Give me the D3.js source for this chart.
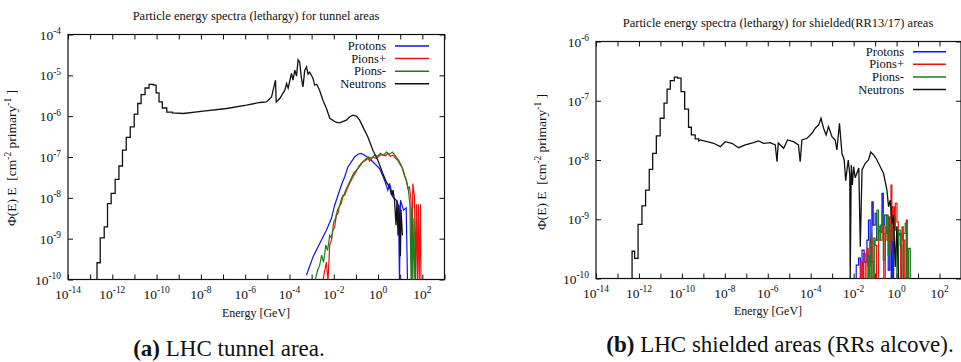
<!DOCTYPE html>
<html>
<head>
<meta charset="utf-8">
<script src="https://cdn.jsdelivr.net/npm/d3@7"></script>
<style>
  body { margin: 0; background: #fff; }
</style>
</head>
<body>
<svg id="chart" width="961" height="362"></svg>
<script>
// ---- data (log10 of energy in GeV, log10 of flux; null = empty bin) ----
var legendNames = ['Protons', 'Pions+', 'Pions-', 'Neutrons'];
var legendColors = ['#1010f0', '#f01010', '#1d7d1d', '#111'];

// (a) tunnel: thermal neutron bins (edges + contents), then the continuum
var tunnelThermalEdges = [-12.69, -12.545, -12.365, -12.216, -12.05, -11.87, -11.70, -11.54, -11.37, -11.19, -11.01, -10.85, -10.70, -10.52, -10.34, -10.14, -10.02, -9.89, -9.74, -9.54, -9.29];
var tunnelThermalPhi = [-9.59, -8.98, -8.71, -8.14, -7.89, -7.55, -7.22, -6.83, -6.52, -6.26, -5.95, -5.69, -5.47, -5.31, -5.22, -5.24, -5.43, -5.65, -5.80, -5.90];
var tunnelNeutronE = [-9.29, -8.79, -7.89, -6.84, -5.94, -5.34, -5.04, -4.81, -4.63, -4.60, -4.44, -4.21, -4.13, -4.06, -3.91, -3.84, -3.76, -3.68, -3.61, -3.54, -3.46, -3.39, -3.31, -3.23, -3.16, -3.09, -3.01, -2.94, -2.86, -2.77, -2.64, -2.49, -2.33, -2.18, -2.04, -1.91, -1.73, -1.60, -1.43, -1.28, -1.135, -0.98, -0.83, -0.685, -0.46, -0.234, -0.009, 0.216, 0.38, 0.518, 0.61, 0.675, 0.743, 0.81, 0.856, 0.90, 0.946, 1.01, 1.036, 1.10];
var tunnelNeutronPhi = [-5.92, -5.935, -5.878, -5.812, -5.732, -5.665, -5.651, -5.528, -5.119, -5.651, -5.567, -5.364, -5.2, -5.315, -4.955, -5.119, -4.874, -5.02, -4.62, -4.671, -5.07, -5.283, -4.874, -4.794, -4.97, -4.92, -4.997, -5.07, -5.24, -5.22, -5.364, -5.609, -5.812, -6.05, -6.099, -6.148, -6.165, -6.136, -6.099, -6.013, -5.976, -6.00, -6.099, -6.263, -6.508, -6.834, -7.079, -7.404, -7.617, -7.733, -7.94, -7.81, -8.06, -8.67, -8.06, -8.92, -8.18, -9.43, -8.29, -8.92];
var tunnelProtonE = [-3.234, -2.937, -2.635, -2.333, -2.108, -1.959, -1.811, -1.658, -1.509, -1.36, -1.207, -1.059, -0.91, -0.757, -0.608, -0.383, -0.158, 0.068, 0.293, 0.441, 0.518, 0.667, 0.82, 0.92, 0.968, 1.01, 1.15, 1.27, 1.33];
var tunnelProtonPhi = [-9.895, -9.447, -9.119, -8.793, -8.507, -8.181, -7.936, -7.691, -7.488, -7.243, -7.12, -6.998, -6.932, -6.914, -6.956, -7.037, -7.159, -7.282, -7.568, -7.813, -7.649, -7.977, -8.058, -8.18, null, -8.06, -8.30, -8.25, null];
var tunnelPionPlusE = [-2.50, -2.333, -2.26, -2.185, -2.108, -2.035, -1.959, -1.88, -1.811, -1.735, -1.658, -1.58, -1.509, -1.36, -1.28, -1.135, -1.06, -0.91, -0.79, -0.685, -0.56, -0.46, -0.38, -0.234, -0.11, -0.009, 0.11, 0.216, 0.34, 0.441, 0.56, 0.667, 0.79, 0.892, 1.01, 1.117, 1.19, 1.27, 1.35, 1.42, 1.49, 1.53, 1.568, 1.645, 1.69, 1.735, 1.78, 1.82, 1.86, 1.915, 1.94];
var tunnelPionPlusPhi = [null, -9.577, null, -9.16, -9.038, -8.793, -8.712, -8.426, -8.384, -8.181, -8.139, -7.936, -7.936, -7.733, -7.64, -7.488, -7.42, -7.282, -7.20, -7.12, -7.08, -7.037, -7.10, -6.998, -7.03, -6.998, -6.944, -6.956, -6.97, -6.914, -6.98, -6.956, -7.03, -7.079, -7.20, -7.282, -7.446, -7.568, -7.77, -7.733, -8.06, null, -7.649, -7.977, null, -8.157, null, -8.157, null, -8.157, null];
var tunnelPionMinusE = [-2.86, -2.73, -2.635, -2.55, -2.46, -2.36, -2.28, -2.185, -2.10, -2.00, -1.92, -1.83, -1.735, -1.64, -1.55, -1.46, -1.37, -1.24, -1.10, -0.97, -0.83, -0.70, -0.56, -0.43, -0.29, -0.16, -0.025, 0.11, 0.25, 0.38, 0.52, 0.65, 0.79, 0.93, 1.06, 1.19, 1.28, 1.37, 1.44, 1.49, 1.53, 1.57, 1.62, 1.66];
var tunnelPionMinusPhi = [null, -9.78, -9.65, -9.40, -9.58, -9.16, -9.29, -8.92, -8.99, -8.59, -8.50, -8.30, -8.20, -8.00, -7.95, -7.81, -7.71, -7.56, -7.39, -7.32, -7.20, -7.12, -7.05, -7.00, -7.03, -6.956, -6.98, -6.91, -6.956, -6.88, -6.93, -6.88, -6.98, -7.08, -7.22, -7.44, -7.57, -7.81, -8.18, null, -8.25, null, -8.50, null];

// (b) shielded RR13/17
var shieldThermalEdges = [-12.32, -12.20, -12.04, -11.86, -11.69, -11.52, -11.36, -11.19, -11.01, -10.83, -10.69, -10.54, -10.35, -10.20, -10.04, -9.87, -9.69, -9.56, -9.38, -9.22];
var shieldThermalPhi = [-9.54, -9.66, -9.087, -8.773, -8.507, -8.157, -7.887, -7.594, -7.295, -7.041, -6.805, -6.659, -6.602, -6.619, -6.845, -7.143, -7.447, -7.577, -7.645];
var shieldNeutronE = [-9.22, -9.14, -8.83, -8.52, -8.21, -7.98, -7.67, -7.36, -7.05, -6.66, -6.43, -6.20, -5.88, -5.65, -5.57, -5.51, -5.26, -5.08, -4.80, -4.57, -4.49, -4.41, -4.17, -3.94, -3.79, -3.63, -3.52, -3.40, -3.28, -3.17, -3.01, -2.86, -2.78, -2.66, -2.545, -2.44, -2.37, -2.31, -2.25, -2.18, -2.16, -2.11, -2.06, -2.00, -1.93, -1.85, -1.76, -1.69, -1.61, -1.46, -1.31, -1.20, -1.07, -0.915, -0.76, -0.61, -0.45, -0.375, -0.295, -0.216, -0.14, -0.063, 0.017, 0.09];
var shieldNeutronPhi = [-7.679, -7.662, -7.691, -7.718, -7.775, -7.691, -7.718, -7.792, -7.746, -7.708, -7.679, -7.718, -7.708, -7.746, -8.029, -7.713, -7.802, -7.662, -7.691, -7.746, -8.029, -7.662, -7.633, -7.549, -7.464, -7.408, -7.295, -7.464, -7.577, -7.437, -7.606, -7.662, -7.831, -7.38, -7.887, -8.0, -8.35, -8.169, -8.0, -8.254, null, -8.084, -8.42, -8.113, -8.30, -8.225, -8.135, -9.466, -8.169, -8.056, -8.0, -7.865, -7.915, -8.0, -8.113, -8.225, -8.507, -8.79, -8.676, -9.07, -8.93, -9.804, -9.128, null];
var shieldProtonE = [-2.005, -1.88, -1.77, -1.69, -1.61, -1.51, -1.38, -1.31, -1.23, -1.15, -1.09, -1.00, -0.93, -0.84, -0.76, -0.68, -0.62, -0.55, -0.45, -0.39, -0.32, -0.25, -0.20, -0.14];
var shieldProtonPhi = [null, -9.775, -9.657, null, -9.522, -9.725, -9.353, -9.015, -9.725, -8.705, -9.10, -8.90, -9.35, -9.128, -9.217, -8.563, -9.10, -8.93, -9.239, -9.86, -9.185, null, -9.353, null];
var shieldPionPlusE = [-1.74, -1.67, -1.60, -1.54, -1.46, -1.38, -1.32, -1.23, -1.16, -1.09, -1.00, -0.93, -0.84, -0.76, -0.67, -0.60, -0.53, -0.45, -0.375, -0.32, -0.26, -0.22, -0.17, -0.11, -0.06, 0.017, 0.08, 0.14, 0.19, 0.25, 0.31, 0.38, 0.45, 0.50];
var shieldPionPlusPhi = [null, -9.725, null, -9.577, null, -9.493, -9.79, -9.353, null, -9.32, -9.44, null, -9.185, -9.353, -9.10, null, -9.128, -9.353, -8.958, -9.52, -8.423, -9.353, -8.79, -9.185, -8.732, -9.043, -9.27, -9.239, null, -9.128, -9.353, null, -9.015, null];
var shieldPionMinusE = [-1.41, -1.32, -1.27, -1.23, -1.16, -1.09, -1.02, -0.915, -0.84, -0.76, -0.68, -0.62, -0.53, -0.46, -0.39, -0.32, -0.22, -0.14, -0.06, 0.01, 0.09, 0.17, 0.24, 0.32, 0.40, 0.47, 0.56, 0.64];
var shieldPionMinusPhi = [null, -9.61, null, -9.239, -9.725, null, -9.353, -8.845, -9.353, -9.10, -8.90, -9.69, -9.239, -8.93, -9.61, -9.10, -9.353, -8.958, -9.128, null, -9.185, -9.44, null, -9.239, -9.07, null, -9.493, null];

// ---- layout ----
var panels = [
  {
    left: 68, top: 34.5, right: 444.5, bottom: 279.5, yExp: [-10, -4],
    title: 'Particle energy spectra (lethargy) for tunnel areas', titleX: 256, titleY: 20,
    yLabelX: 16, yLabelY: 158, xLabelX: 256, xLabelY: 317,
    legendX: 386, legendY: 46, legendLineX: [395, 429],
    caption: ['(a)', ' LHC tunnel area.'], captionX: 229, captionY: 356,
    thermal: [tunnelThermalEdges, tunnelThermalPhi], neutron: [tunnelNeutronE, tunnelNeutronPhi],
    hadrons: [[tunnelProtonE, tunnelProtonPhi], [tunnelPionPlusE, tunnelPionPlusPhi], [tunnelPionMinusE, tunnelPionMinusPhi]],
    hadronCurve: d3.curveLinear
  },
  {
    left: 596, top: 41.5, right: 961, bottom: 278.5, yExp: [-10, -6],
    title: 'Particle energy spectra (lethargy) for shielded(RR13/17) areas', titleX: 778, titleY: 27,
    yLabelX: 546, yLabelY: 162, xLabelX: 768, xLabelY: 315,
    legendX: 904, legendY: 51.7, legendLineX: [913, 946],
    caption: ['(b)', ' LHC shielded areas (RRs alcove).'], captionX: 780, captionY: 352,
    thermal: [shieldThermalEdges, shieldThermalPhi], neutron: [shieldNeutronE, shieldNeutronPhi],
    hadrons: [[shieldProtonE, shieldProtonPhi], [shieldPionPlusE, shieldPionPlusPhi], [shieldPionMinusE, shieldPionMinusPhi]],
    hadronCurve: d3.curveStepAfter
  }
];

var FONT = '"Liberation Serif"';
var svg = d3.select('#chart');

function addText(parent) {
  return parent.append('text').style('font-family', FONT).style('fill', '#111');
}

function supText(sel, parts) {
  // parts: [text, isSuperscript, dropsBack]
  parts.forEach(function (p) {
    var t = sel.append('tspan').text(p[0]);
    if (p[1]) t.attr('dy', -5.5).attr('font-size', '0.7em');
    else if (p[2]) t.attr('dy', 5.5);
  });
}

panels.forEach(function (p, i) {
  var w = p.right - p.left, h = p.bottom - p.top;
  var x = d3.scaleLog().domain([1e-14, 1e3]).range([0, w]);
  var y = d3.scaleLog().domain([Math.pow(10, p.yExp[0]), Math.pow(10, p.yExp[1])]).range([h, 0]);
  var g = svg.append('g').attr('transform', 'translate(' + p.left + ',' + p.top + ')');

  var clipId = 'clip' + i;
  svg.append('clipPath').attr('id', clipId).append('rect').attr('width', w).attr('height', h);

  var xDec = d3.range(-14, 4).map(function (e) { return Math.pow(10, e); });
  var yDec = d3.range(p.yExp[0], p.yExp[1] + 1).map(function (e) { return Math.pow(10, e); });

  // inward ticks on all four sides
  g.append('g').attr('transform', 'translate(0,' + h + ')')
    .call(d3.axisBottom(x).tickValues(xDec).tickSize(-5).tickFormat(''));
  g.append('g').call(d3.axisTop(x).tickValues(xDec).tickSize(-5).tickFormat(''));
  g.append('g').call(d3.axisLeft(y).tickValues(yDec).tickSize(-5).tickFormat(''));
  g.append('g').attr('transform', 'translate(' + w + ',0)')
    .call(d3.axisRight(y).tickValues(yDec).tickSize(-5).tickFormat(''));
  g.selectAll('.domain').remove();
  g.selectAll('.tick line').attr('stroke', '#111').attr('stroke-width', 1);

  g.append('rect').attr('width', w).attr('height', h)
    .attr('fill', 'none').attr('stroke', '#111').attr('stroke-width', 1.2);

  // tick labels
  d3.range(-14, 3, 2).forEach(function (e) {
    var t = addText(g).attr('x', x(Math.pow(10, e))).attr('y', h + 19)
      .attr('text-anchor', 'middle').attr('font-size', 13.5);
    supText(t, [['10'], [String(e), true]]);
  });
  d3.range(p.yExp[0], p.yExp[1] + 1).forEach(function (e) {
    var t = addText(g).attr('x', -7).attr('y', y(Math.pow(10, e)) + 5)
      .attr('text-anchor', 'end').attr('font-size', 13.5);
    supText(t, [['10'], [String(e), true]]);
  });

  // titles and labels
  addText(svg).attr('x', p.titleX).attr('y', p.titleY).attr('text-anchor', 'middle')
    .attr('font-size', 12.5).text(p.title);
  addText(svg).attr('x', p.xLabelX).attr('y', p.xLabelY).attr('text-anchor', 'middle')
    .attr('font-size', 12).text('Energy [GeV]');
  var yl = addText(svg).attr('transform', 'translate(' + p.yLabelX + ',' + p.yLabelY + ') rotate(-90)')
    .attr('text-anchor', 'middle').attr('font-size', 13.5).style('white-space', 'pre');
  supText(yl, [['\u03A6(E) E  [cm'], ['-2', true], [' primary', false, true], ['-1', true], [' ]', false, true]]);

  var cap = addText(svg).attr('x', p.captionX).attr('y', p.captionY).attr('text-anchor', 'middle')
    .attr('font-size', 23);
  cap.append('tspan').attr('font-weight', 'bold').text(p.caption[0]);
  cap.append('tspan').text(p.caption[1]);

  // data → points
  function pts(es, fs) {
    return es.map(function (e, k) { return { e: Math.pow(10, e), f: fs[k] === null ? 0 : Math.pow(10, fs[k]) }; });
  }
  var line = d3.line()
    .x(function (d) { return x(d.e); })
    .y(function (d) { return d.f > 0 ? y(d.f) : h + 2; });

  var plot = g.append('g').attr('clip-path', 'url(#' + clipId + ')');

  p.hadrons.forEach(function (s, k) {
    plot.append('path').datum(pts(s[0], s[1]))
      .attr('d', line.curve(p.hadronCurve))
      .attr('fill', 'none').attr('stroke', legendColors[k]).attr('stroke-width', 1.2);
  });

  // neutron: histogram bins expanded to steps, then the fine-binned continuum
  var te = p.thermal[0], tf = p.thermal[1];
  var neutron = [{ e: Math.pow(10, te[0]), f: 0 }];
  tf.forEach(function (v, k) {
    neutron.push({ e: Math.pow(10, te[k]), f: Math.pow(10, v) });
    neutron.push({ e: Math.pow(10, te[k + 1]), f: Math.pow(10, v) });
  });
  neutron = neutron.concat(pts(p.neutron[0], p.neutron[1]));
  plot.append('path').datum(neutron)
    .attr('d', line.curve(d3.curveLinear))
    .attr('fill', 'none').attr('stroke', legendColors[3]).attr('stroke-width', 1.3);

  // legend
  legendNames.forEach(function (n, k) {
    var ly = p.legendY + k * 12.6;
    addText(svg).attr('x', p.legendX).attr('y', ly + 4).attr('text-anchor', 'end')
      .attr('font-size', 12.5).text(n);
    svg.append('line').attr('x1', p.legendLineX[0]).attr('x2', p.legendLineX[1])
      .attr('y1', ly).attr('y2', ly).attr('stroke', legendColors[k]).attr('stroke-width', 1.5);
  });
});
</script>
</body>
</html>
